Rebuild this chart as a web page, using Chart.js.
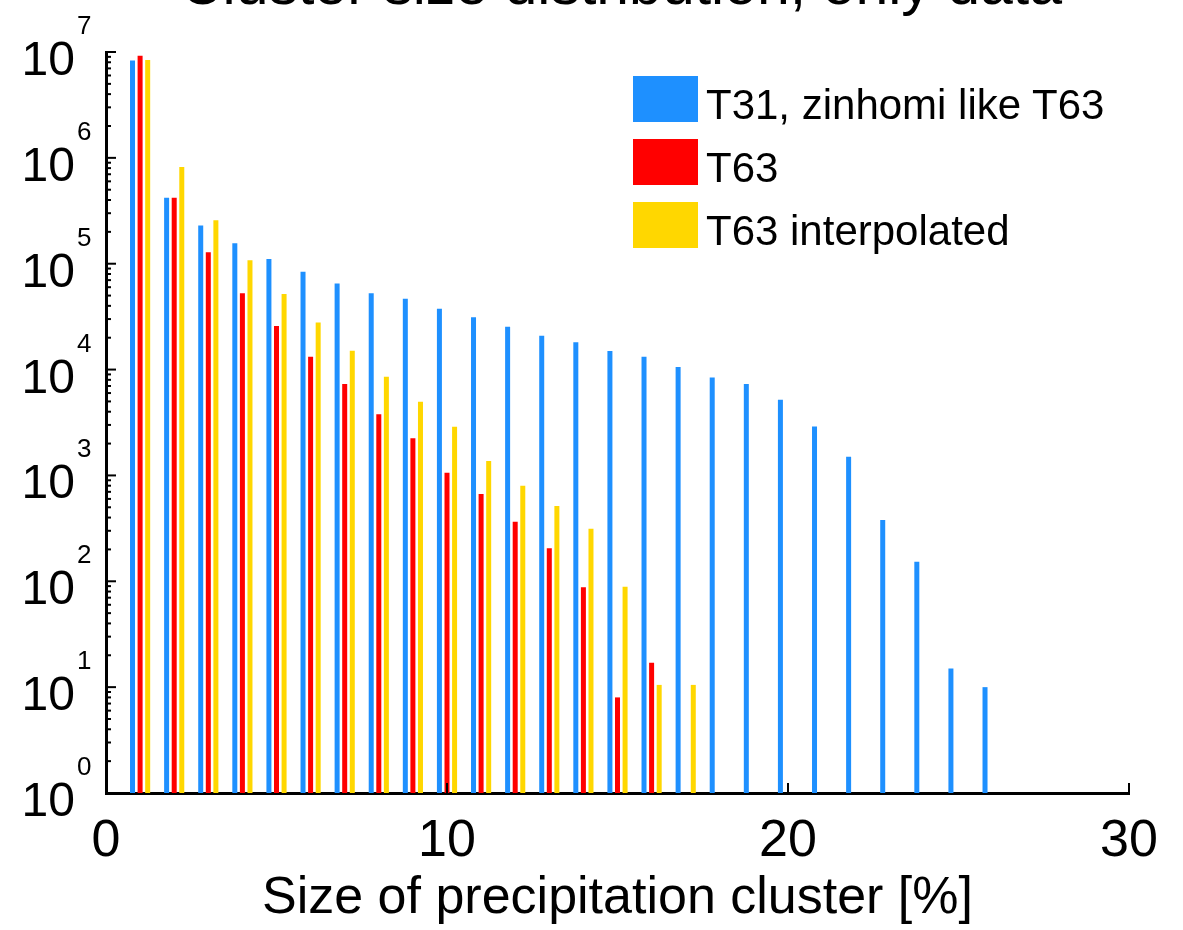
<!DOCTYPE html>
<html>
<head>
<meta charset="utf-8">
<script src="https://cdn.jsdelivr.net/npm/chart.js@4"></script>
<style>
  html, body { margin: 0; padding: 0; background: #fff; overflow: hidden; }
  #wrap { position: relative; width: 1183px; height: 930px; overflow: hidden; font-family: "Liberation Sans", Arial, sans-serif; }
  #plot { position: absolute; left: 0; top: 0; }
  #title { position: absolute; left: 59px; top: -45px; width: 1124px; text-align: center;
           font-size: 59px; line-height: 59px; color: #000; white-space: nowrap; }
  #legend { position: absolute; left: 633px; top: 76px; }
  .row { position: absolute; left: 0; height: 46px; white-space: nowrap; }
  .swatch { position: absolute; left: 0; top: 0; width: 65px; height: 46px; }
  .label { position: absolute; left: 73px; top: 6px; font-size: 42px; line-height: 46px; color: #000; }
</style>
</head>
<body>
<div id="wrap">
  <canvas id="plot" width="1183" height="930"></canvas>
  <div id="title">Cluster size distribution, only data</div>
  <div id="legend"></div>
</div>
<script>
// Cluster size bins [%] and the number of clusters in each bin
const clusterSizes = [1, 2, 3, 4, 5, 6, 7, 8, 9, 10, 11, 12, 13, 14, 15, 16, 17, 18, 19, 20, 21, 22, 23, 24, 25, 26];

const countsT31 = [8.3e6, 4.2e5, 2.3e5, 1.56e5, 1.11e5, 8.4e4, 6.5e4, 5.25e4, 4.67e4, 3.76e4,
                   3.12e4, 2.54e4, 2.09e4, 1.81e4, 1.5e4, 1.32e4, 1.06e4, 8.4e3, 7.3e3, 5.2e3,
                   2.9e3, 1.5e3, 380, 153, 15, 10];
const countsT63 = [9.2e6, 4.2e5, 1.28e5, 5.25e4, 2.58e4, 1.32e4, 7.3e3, 3.78e3, 2.24e3, 1.06e3,
                   667, 365, 205, 88, 8, 17];
const countsT63i = [8.4e6, 8.2e5, 2.57e5, 1.08e5, 5.17e4, 2.79e4, 1.51e4, 8.57e3, 4.97e3, 2.89e3,
                    1.37e3, 800, 514, 314, 89, 10.5, 10.5];

const seriesNames = ['T31, zinhomi like T63', 'T63', 'T63 interpolated'];
const seriesColors = ['#1E90FF', '#FF0000', '#FFD700'];

// Axis ranges and tick labels
const xRange = [0, 30];
const xTickValues = [0, 10, 20, 30];
const yExponents = [0, 1, 2, 3, 4, 5, 6, 7];

const FONT = '"Liberation Sans", Arial, sans-serif';

function toPoints(values) {
  return values.map((v, i) => ({ x: clusterSizes[i], y: v }));
}

const allCounts = [countsT31, countsT63, countsT63i];
const datasets = allCounts.map((vals, k) => ({
  label: seriesNames[k],
  data: toPoints(vals),
  backgroundColor: seriesColors[k],
  borderWidth: 0,
  categoryPercentage: 0.667,
  barPercentage: 0.66
}));

// Inward tick marks and superscripted decade labels for the log axis
const axisDecor = {
  id: 'axisDecor',
  afterDraw(chart) {
    const { ctx, chartArea: a, scales: { x, y } } = chart;
    ctx.save();
    ctx.strokeStyle = '#000';
    ctx.fillStyle = '#000';
    ctx.lineWidth = 2;
    const seg = (x1, y1, x2, y2) => { ctx.beginPath(); ctx.moveTo(x1, y1); ctx.lineTo(x2, y2); ctx.stroke(); };

    yExponents.forEach(e => {
      const py = y.getPixelForValue(Math.pow(10, e));
      seg(a.left, py, a.left + 10, py);
      if (e < yExponents[yExponents.length - 1]) {
        for (let m = 2; m <= 9; m++) {
          const pm = y.getPixelForValue(m * Math.pow(10, e));
          seg(a.left, pm, a.left + 5, pm);
        }
      }
      ctx.textBaseline = 'alphabetic';
      ctx.font = '48px ' + FONT;
      ctx.textAlign = 'right';
      ctx.fillText('10', a.left - 31, py + 23);
      ctx.font = '26px ' + FONT;
      ctx.textAlign = 'left';
      ctx.fillText(String(e), a.left - 29, py - 18);
    });

    xTickValues.forEach(v => {
      const px = x.getPixelForValue(v);
      seg(px, a.bottom, px, a.bottom - 10);
    });
    ctx.restore();
  }
};

new Chart(document.getElementById('plot'), {
  type: 'bar',
  data: { datasets },
  plugins: [axisDecor],
  options: {
    responsive: false,
    animation: false,
    devicePixelRatio: 1,
    layout: { padding: { left: 0, right: 54, top: 52, bottom: 0 } },
    plugins: { legend: { display: false }, tooltip: { enabled: false }, title: { display: false } },
    scales: {
      x: {
        type: 'linear',
        min: xRange[0],
        max: xRange[1],
        offset: false,
        grid: { display: false, drawTicks: false },
        border: { display: true, color: '#000', width: 3 },
        ticks: {
          stepSize: 10,
          color: '#000',
          padding: 17,
          maxRotation: 0,
          autoSkip: false,
          font: { family: FONT, size: 52 }
        },
        title: {
          display: true,
          text: 'Size of precipitation cluster [%]',
          color: '#000',
          font: { family: FONT, size: 52, lineHeight: 1 },
          padding: { top: 0, bottom: 5 }
        },
        afterFit(scale) { scale.height = 137; }
      },
      y: {
        type: 'logarithmic',
        min: 1,
        max: 1e7,
        grid: { display: false, drawTicks: false },
        border: { display: true, color: '#000', width: 3 },
        ticks: { display: false },
        afterFit(scale) { scale.width = 106; }
      }
    }
  }
});

// Legend entries built from the series names and colours
const legend = document.getElementById('legend');
seriesNames.forEach((name, k) => {
  const row = document.createElement('div');
  row.className = 'row';
  row.style.top = (k * 63) + 'px';
  const sw = document.createElement('div');
  sw.className = 'swatch';
  sw.style.background = seriesColors[k];
  const lb = document.createElement('div');
  lb.className = 'label';
  lb.textContent = name;
  row.appendChild(sw);
  row.appendChild(lb);
  legend.appendChild(row);
});
</script>
</body>
</html>
